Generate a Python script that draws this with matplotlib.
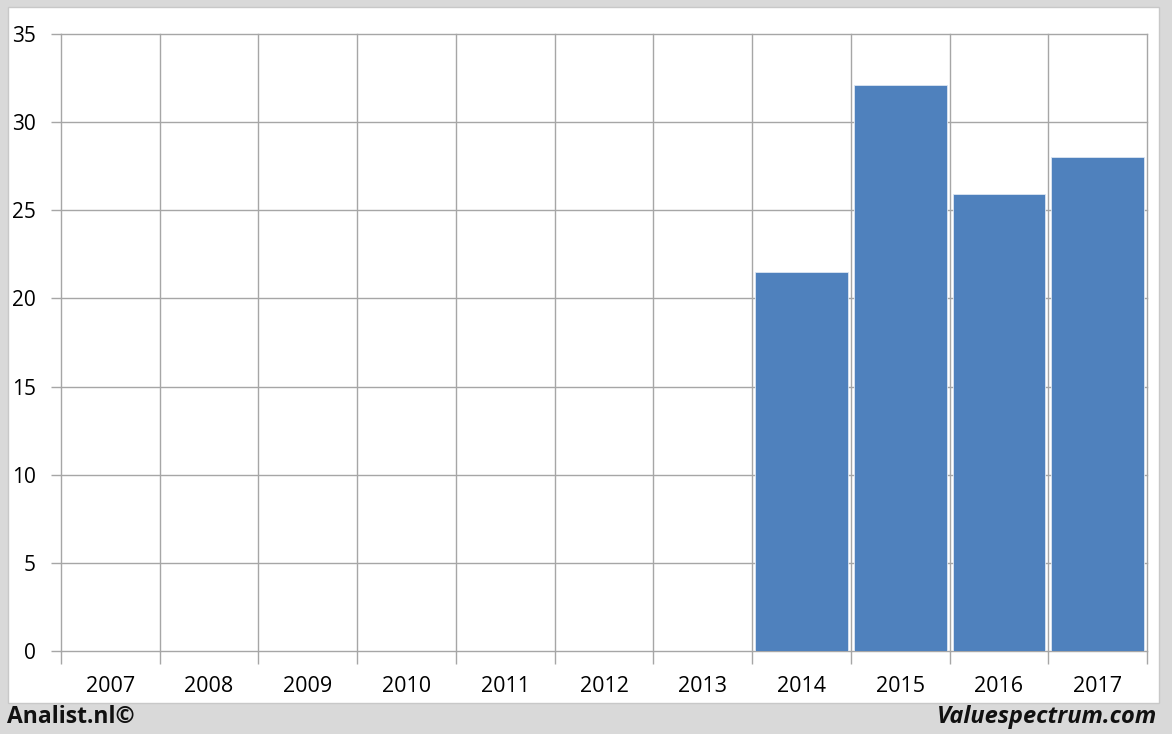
import numpy as np
import matplotlib
matplotlib.use('Agg')
import matplotlib.pyplot as plt
from matplotlib.patches import Rectangle

# values per year, empty years have no bar
years = ['2007', '2008', '2009', '2010', '2011', '2012', '2013',
         '2014', '2015', '2016', '2017']
values = [np.nan, np.nan, np.nan, np.nan, np.nan, np.nan, np.nan,
          21.5, 32.1, 25.9, 28.0]
y_ticks = [0, 5, 10, 15, 20, 25, 30, 35]

W, H = 1172, 734
grid_col = '#a6a6a6'
bar_col = '#4f81bd'

plt.rcParams['font.family'] = ['Open Sans', 'DejaVu Sans']

fig = plt.figure(figsize=(W / 100, H / 100), dpi=100, facecolor='#d9d9d9')
# white panel behind the chart
fig.patches.append(Rectangle((8 / W, 1 - 703 / H), (1159 - 8) / W, (703 - 7) / H,
                             transform=fig.transFigure, facecolor='white',
                             edgecolor='#c8c8c8', lw=1, zorder=-5))

ax = fig.add_axes([61 / W, 1 - 651 / H, (1147 - 61) / W, (651 - 34) / H])
ax.set_zorder(2)
ax.set_facecolor('none')

x = np.arange(len(years))
ax.bar(x, values, width=0.94, color=bar_col, edgecolor='#dce6f2', lw=0.6, zorder=3)

ax.set_xlim(-0.5, len(years) - 0.5)
ax.set_ylim(0, 35)
ax.set_yticks(y_ticks)
ax.set_xticks(x)
ax.set_xticklabels(years)
ax.set_xticks(np.arange(-0.5, len(years)), minor=True)

ax.grid(True, axis='y', which='major', color=grid_col, lw=1, zorder=1)
ax.grid(True, axis='x', which='minor', color=grid_col, lw=1, zorder=1)
ax.grid(False, axis='x', which='major')
for s in ax.spines.values():
    s.set_visible(False)
# keep the edge grid lines whole
for gl in ax.get_ygridlines() + ax.xaxis.get_minorticklines():
    gl.set_clip_on(False)
for t in ax.xaxis.get_minor_ticks():
    t.gridline.set_clip_on(False)

ax.tick_params(axis='y', length=7, color=grid_col, width=1, pad=11,
               labelsize=15, labelcolor='black')
ax.tick_params(axis='x', which='major', length=0, pad=18, labelsize=15.5,
               labelcolor='black')
ax.tick_params(axis='x', which='minor', length=9, color=grid_col, width=1)

fig.text(7 / W, 1 - 717 / H, 'Analist.nl\u00a9', fontsize=16.5, fontweight='bold',
         va='center', ha='left', color='#111111')
fig.text(1157 / W, 1 - 717 / H, 'Valuespectrum.com', fontsize=17, fontweight='bold',
         style='italic', va='center', ha='right', color='#111111')

fig.savefig('out.png', dpi=100, facecolor=fig.get_facecolor())
